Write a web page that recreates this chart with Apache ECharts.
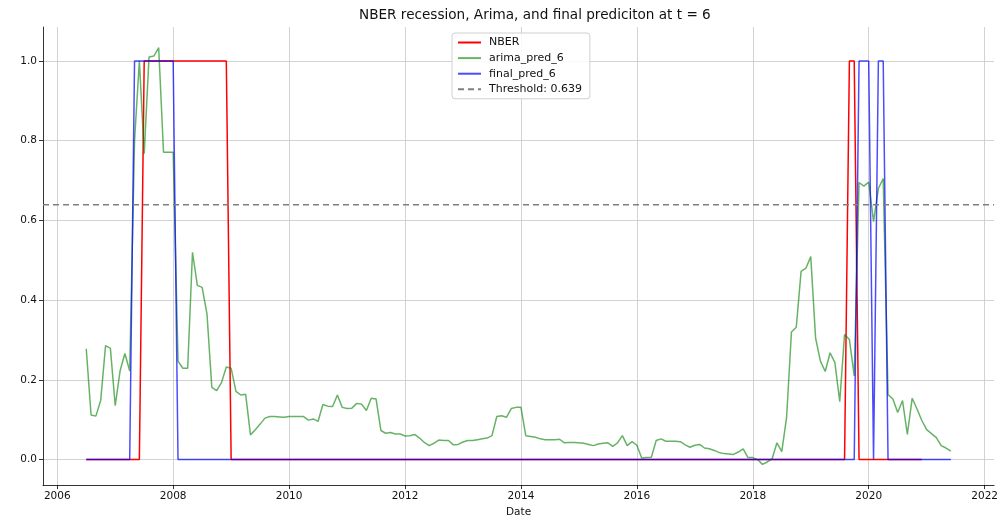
<!DOCTYPE html>
<html>
<head>
<meta charset="utf-8">
<script src="https://cdn.jsdelivr.net/npm/echarts@6/dist/echarts.min.js"></script>
<style>
  html, body { margin: 0; padding: 0; background: #fff; }
  #chart { width: 1001px; height: 523px; }
</style>
</head>
<body>
<div id="chart"></div>
<script>
// Monthly series starting July 2006
const START_YEAR = 2006;
const START_MONTH = 7;

// NBER recession indicator (ends Dec 2020)
const nber = [
  0,0,0,0,0,0,0,0,0,0,0,0,
  1,1,1,1,1,1,1,1,1,1,1,1,1,1,1,1,1,1,
  0,0,0,0,0,0,0,0,0,0,0,0,0,0,0,0,0,0,0,0,0,0,0,0,0,0,0,0,0,0,0,0,
  0,0,0,0,0,0,0,0,0,0,0,0,0,0,0,0,0,0,0,0,0,0,0,0,0,0,0,0,0,0,0,0,
  0,0,0,0,0,0,0,0,0,0,0,0,0,0,0,0,0,0,0,0,0,0,0,0,0,0,0,0,0,0,0,0,
  0,0,0,0,0,0,0,0,0,0,0,0,0,0,0,0,0,0,0,0,0,0,0,0,0,0,0,0,0,0,0,0,
  1,1,
  0,0,0,0,0,0,0,0,0,0,0,0,0,0
];

// ARIMA forecast probability, 6 months ahead (Jul 2006 - Jun 2021)
const arimaPred6 = [
  0.278,0.112,0.109,0.149,0.286,0.279,0.135,0.222,0.266,0.222,
  0.800,1.000,0.767,1.010,1.012,1.033,0.771,0.771,0.771,0.247,
  0.229,0.229,0.520,0.437,0.432,0.365,0.181,0.173,0.193,0.232,
  0.229,0.171,0.162,0.164,0.062,0.075,0.089,0.104,0.108,0.108,
  0.107,0.106,0.108,0.108,0.108,0.108,0.099,0.102,0.096,0.138,
  0.134,0.133,0.162,0.131,0.128,0.129,0.141,0.139,0.123,0.154,
  0.152,0.073,0.066,0.068,0.064,0.064,0.059,0.060,0.063,0.054,
  0.043,0.035,0.041,0.049,0.048,0.048,0.037,0.038,0.044,0.048,
  0.048,0.050,0.052,0.054,0.060,0.108,0.110,0.106,0.128,0.131,
  0.131,0.060,0.058,0.056,0.052,0.050,0.050,0.050,0.051,0.042,
  0.043,0.043,0.042,0.041,0.038,0.035,0.039,0.041,0.042,0.033,
  0.042,0.060,0.035,0.045,0.036,0.004,0.005,0.006,0.048,0.052,
  0.046,0.046,0.046,0.045,0.037,0.031,0.036,0.038,0.029,0.027,
  0.023,0.018,0.015,0.014,0.013,0.019,0.027,0.005,0.005,0.000,
  -0.012,-0.006,0.002,0.042,0.020,0.106,0.320,0.332,0.472,0.480,
  0.509,0.305,0.247,0.221,0.268,0.243,0.145,0.314,0.301,0.210,
  0.695,0.686,0.696,0.597,0.680,0.705,0.163,0.152,0.118,0.148,
  0.063,0.154,0.127,0.098,0.075,0.065,0.055,0.035,0.029,0.021
];

// Final 0/1 prediction (Jul 2006 - Jun 2021)
const finalPred6 = [
  0,0,0,0,0,0,0,0,0,0,
  1,1,1,1,1,1,1,1,1,
  0,0,0,0,0,0,0,0,0,0,0,0,0,0,0,0,0,0,0,0,0,0,0,0,0,0,0,0,0,0,
  0,0,0,0,0,0,0,0,0,0,0,0,0,0,0,0,0,0,0,0,0,0,0,0,0,0,0,0,0,0,
  0,0,0,0,0,0,0,0,0,0,0,0,0,0,0,0,0,0,0,0,0,0,0,0,0,0,0,0,0,0,
  0,0,0,0,0,0,0,0,0,0,0,0,0,0,0,0,0,0,0,0,0,0,0,0,0,0,0,0,0,0,
  0,0,0,0,0,0,0,0,0,0,0,0,0,0,0,0,0,0,0,0,0,
  1,1,1,
  0,
  1,1,
  0,0,0,0,0,0,0,0,0,0,0,0,0,0
];

const THRESHOLD = 0.639;
const yearTicks = [2006, 2008, 2010, 2012, 2014, 2016, 2018, 2020, 2022];
const yTicks = [0, 0.2, 0.4, 0.6, 0.8, 1.0];

const X_MIN = 2005.754, X_MAX = 2022.163;
const Y_MIN = -0.064, Y_MAX = 1.085;

// month index -> decimal year
function toYear(i) {
  return START_YEAR + (START_MONTH - 1 + i) / 12;
}
const pairs = arr => arr.map((v, i) => [toYear(i), v]);

const FONT = 'DejaVu Sans';
const chart = echarts.init(document.getElementById('chart'), null, { renderer: 'canvas' });

chart.setOption({
  animation: false,
  backgroundColor: '#fff',
  textStyle: { fontFamily: FONT },
  title: {
    text: 'NBER recession, Arima, and final prediciton at t = 6',
    left: 354, top: 3,
    textStyle: { fontFamily: FONT, fontSize: 13.6, fontWeight: 'normal', color: '#111' }
  },
  legend: {
    orient: 'vertical',
    left: 452, top: 33,
    padding: [4, 8, 4, 5],
    itemWidth: 23, itemHeight: 11, itemGap: 4.6,
    itemStyle: { opacity: 0 },
    borderColor: '#d0d0d0', borderWidth: 1, borderRadius: 3,
    backgroundColor: 'rgba(255,255,255,0.85)',
    textStyle: { fontFamily: FONT, fontSize: 11, color: '#111', padding: [0, 0, 0, 3] },
    data: ['NBER', 'arima_pred_6', 'final_pred_6', 'Threshold: ' + THRESHOLD]
  },
  grid: { left: 43, right: 3, top: 27, bottom: 35, containLabel: false },
  xAxis: {
    type: 'value', min: X_MIN, max: X_MAX,
    name: 'Date', nameLocation: 'middle', nameGap: 21,
    nameTextStyle: { fontFamily: FONT, fontSize: 10.5, color: '#111' },
    axisLine: { show: true, onZero: false, lineStyle: { color: '#000', width: 0.8 } },
    axisTick: { show: true, customValues: yearTicks, length: 4, lineStyle: { color: '#000', width: 0.8 } },
    axisLabel: { customValues: yearTicks, formatter: v => String(Math.round(v)), fontFamily: FONT, fontSize: 10.5, color: '#111', margin: 6 },
    splitLine: { show: true, lineStyle: { color: '#c8c8c8', width: 0.8 } }
  },
  yAxis: {
    type: 'value', min: Y_MIN, max: Y_MAX,
    axisLine: { show: true, onZero: false, lineStyle: { color: '#000', width: 0.8 } },
    axisTick: { show: true, customValues: yTicks, length: 4, lineStyle: { color: '#000', width: 0.8 } },
    axisLabel: { customValues: yTicks, formatter: v => v.toFixed(1), fontFamily: FONT, fontSize: 10.5, color: '#111', margin: 6 },
    splitLine: { show: true, lineStyle: { color: '#c8c8c8', width: 0.8 } }
  },
  series: [
    {
      name: 'NBER', type: 'line', data: pairs(nber),
      symbol: 'none', showSymbol: false,
      lineStyle: { color: '#ff0000', width: 1.5 }, itemStyle: { color: '#ff0000' }
    },
    {
      name: 'arima_pred_6', type: 'line', data: pairs(arimaPred6),
      symbol: 'none', showSymbol: false,
      lineStyle: { color: '#008000', width: 1.5, opacity: 0.6 }, itemStyle: { color: '#008000' }
    },
    {
      name: 'final_pred_6', type: 'line', data: pairs(finalPred6),
      symbol: 'none', showSymbol: false,
      lineStyle: { color: '#0000ff', width: 1.5, opacity: 0.7 }, itemStyle: { color: '#0000ff' }
    },
    {
      name: 'Threshold: ' + THRESHOLD, type: 'line',
      data: [[X_MIN, THRESHOLD], [X_MAX, THRESHOLD]],
      symbol: 'none', showSymbol: false,
      lineStyle: { color: '#808080', width: 1.5, type: [6, 4] }, itemStyle: { color: '#808080' }
    }
  ]
});
</script>
</body>
</html>
